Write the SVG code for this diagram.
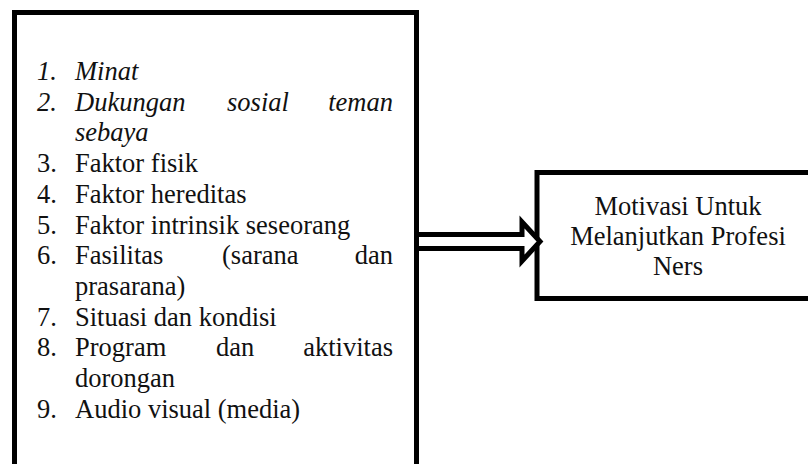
<svg xmlns="http://www.w3.org/2000/svg" width="808" height="464" viewBox="0 0 808 464">
<style>
.box{fill:#fff;stroke:#000;stroke-width:5;stroke-linejoin:miter}
text{font-family:'Liberation Serif',Tinos,'Times New Roman',Times,'DejaVu Serif','Noto Serif',serif;font-size:26.5px;fill:#111}
.i{font-style:italic}
.c{text-anchor:middle}
.e{text-anchor:end}
.arrow{fill:#fff;stroke:#000;stroke-width:5;stroke-linejoin:miter;stroke-miterlimit:10}
</style>
<rect width="808" height="464" fill="#fff"/>
<g id="factors">
<rect class="box" x="14.5" y="12.5" width="402" height="475"/>
<text class="i" x="37" y="80">1.</text><text class="i" x="75" y="80">Minat</text>
<text class="i" x="37" y="110.7">2.</text><text class="i" x="75" y="110.7">Dukungan</text><text class="i" x="227" y="110.7">sosial</text><text class="i e" x="393" y="110.7">teman</text>
<text class="i" x="75" y="141.4">sebaya</text>
<text x="37" y="172.1">3.</text><text x="75" y="172.1">Faktor fisik</text>
<text x="37" y="202.8">4.</text><text x="75" y="202.8">Faktor hereditas</text>
<text x="37" y="233.5">5.</text><text x="75" y="233.5">Faktor intrinsik seseorang</text>
<text x="37" y="264.2">6.</text><text x="75" y="264.2">Fasilitas</text><text x="222" y="264.2">(sarana</text><text class="e" x="393" y="264.2">dan</text>
<text x="75" y="294.9">prasarana)</text>
<text x="37" y="325.6">7.</text><text x="75" y="325.6">Situasi dan kondisi</text>
<text x="37" y="356.3">8.</text><text x="75" y="356.3">Program</text><text x="216" y="356.3">dan</text><text class="e" x="393" y="356.3">aktivitas</text>
<text x="75" y="387">dorongan</text>
<text x="37" y="417.7">9.</text><text x="75" y="417.7">Audio visual (media)</text>
</g>
<g id="motivation">
<rect class="box" x="537" y="172.5" width="300" height="126"/>
<text class="c" x="678" y="215">Motivasi Untuk</text>
<text class="c" x="678" y="244.5">Melanjutkan Profesi</text>
<text class="c" x="678" y="275">Ners</text>
</g>
<g id="connectors">
<polygon class="arrow" points="416.5,234.5 522,234.5 522,222 540,241.5 522,261 522,248.5 416.5,248.5"/>
</g>
</svg>
